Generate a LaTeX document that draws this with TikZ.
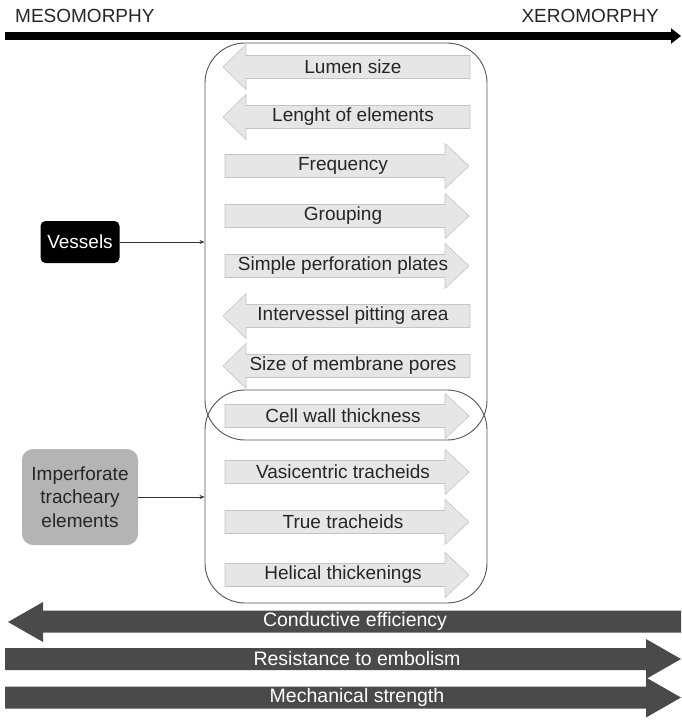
\documentclass[tikz,border=0pt]{standalone}
\usepackage{fontspec}
\setmainfont{Liberation Sans}
\usetikzlibrary{arrows.meta}
\definecolor{lightfill}{HTML}{E6E6E6}
\definecolor{lightedge}{HTML}{C4C4C4}
\definecolor{darkfill}{HTML}{4A4A4A}
\definecolor{boxedge}{HTML}{555555}
\definecolor{imfill}{HTML}{B4B4B4}
\newcommand\RightLight[3]{%
  \fill[lightarr] (225,#1-11.5) -- (445,#1-11.5) -- (445,#1-22.5) -- (469,#1) -- (445,#1+22.5) -- (445,#1+11.5) -- (225,#1+11.5) -- cycle;
  \node[lbl] (#2) at (343,#1) {#3};}
\newcommand\LeftLight[3]{%
  \fill[lightarr] (470,#1-11.5) -- (246,#1-11.5) -- (246,#1-22.5) -- (223,#1) -- (246,#1+22.5) -- (246,#1+11.5) -- (470,#1+11.5) -- cycle;
  \node[lbl] (#2) at (353,#1) {#3};}
\newcommand\RightDark[3]{%
  \fill[darkfill] (5,#1-11) -- (646,#1-11) -- (646,#1-20) -- (681,#1) -- (646,#1+20) -- (646,#1+11) -- (5,#1+11) -- cycle;
  \node[dlbl] (#2) at (357,#1) {#3};}
\begin{document}
\begin{tikzpicture}[x=1pt,y=-1pt,
  lightarr/.style={fill=lightfill,draw=lightedge,line width=0.6pt},
  lbl/.style={font=\fontsize{19}{21}\selectfont,text=black!85,inner sep=0pt},
  dlbl/.style={font=\fontsize{19.5}{21}\selectfont,text=white,inner sep=0pt},
  bigbox/.style={draw=boxedge,line width=0.9pt,rounded corners=40pt},
  conn/.style={draw=black!80,line width=0.6pt,-{Stealth[length=5pt,width=4pt]}},
  toplbl/.style={font=\fontsize{19}{21}\selectfont,text=black!85,inner sep=0pt}]
\useasboundingbox (0,0) rectangle (681,720);
% top labels and arrow
\node[toplbl,anchor=base west] (meso) at (15,22) {MESOMORPHY};
\node[toplbl,anchor=base east] (xero) at (659,22) {XEROMORPHY};
\coordinate (tl) at (5,36);
\coordinate (tr) at (681,36);
\draw[line width=7.5pt,-{Triangle[length=10pt,width=15pt]}] (tl) -- (tr);
% light arrows
\LeftLight{67}{l1}{Lumen size}
\LeftLight{117}{l2}{Lenght of elements}
\RightLight{166}{l3}{Frequency}
\RightLight{216}{l4}{Grouping}
\RightLight{266}{l5}{Simple perforation plates}
\LeftLight{316}{l6}{Intervessel pitting area}
\LeftLight{366}{l7}{Size of membrane pores}
\RightLight{416}{l8}{Cell wall thickness}
\RightLight{472}{l9}{Vasicentric tracheids}
\RightLight{522}{l10}{True tracheids}
\RightLight{575}{l11}{Helical thickenings}
% big boxes
\node[bigbox,minimum width=282pt,minimum height=397pt] (vbox) at (346,241.5) {};
\node[bigbox,minimum width=282pt,minimum height=213pt] (tbox) at (346,496.5) {};
% left nodes
\node[fill=black,text=white,rounded corners=5pt,minimum width=79pt,minimum height=42pt,inner sep=0pt,font=\fontsize{19}{21}\selectfont] (ves) at (80,242) {Vessels};
\node[fill=imfill,text=black!85,rounded corners=11pt,minimum width=116pt,minimum height=96pt,inner sep=0pt,align=center,font=\fontsize{19}{23.5}\selectfont] (imp) at (80,497) {Imperforate\\tracheary\\elements};
\draw[conn] (ves.east) -- (ves.east -| vbox.west);
\draw[conn] (imp.east) -- (imp.east -| tbox.west);
% dark arrows
\fill[darkfill] (681,610.5) -- (43,610.5) -- (43,602) -- (8,622) -- (43,642) -- (43,632.5) -- (681,632.5) -- cycle;
\node[dlbl] (ce) at (355,621.5) {Conductive efficiency};
\RightDark{659}{re}{Resistance to embolism}
\RightDark{697.5}{ms}{Mechanical strength}
\end{tikzpicture}
\end{document}
